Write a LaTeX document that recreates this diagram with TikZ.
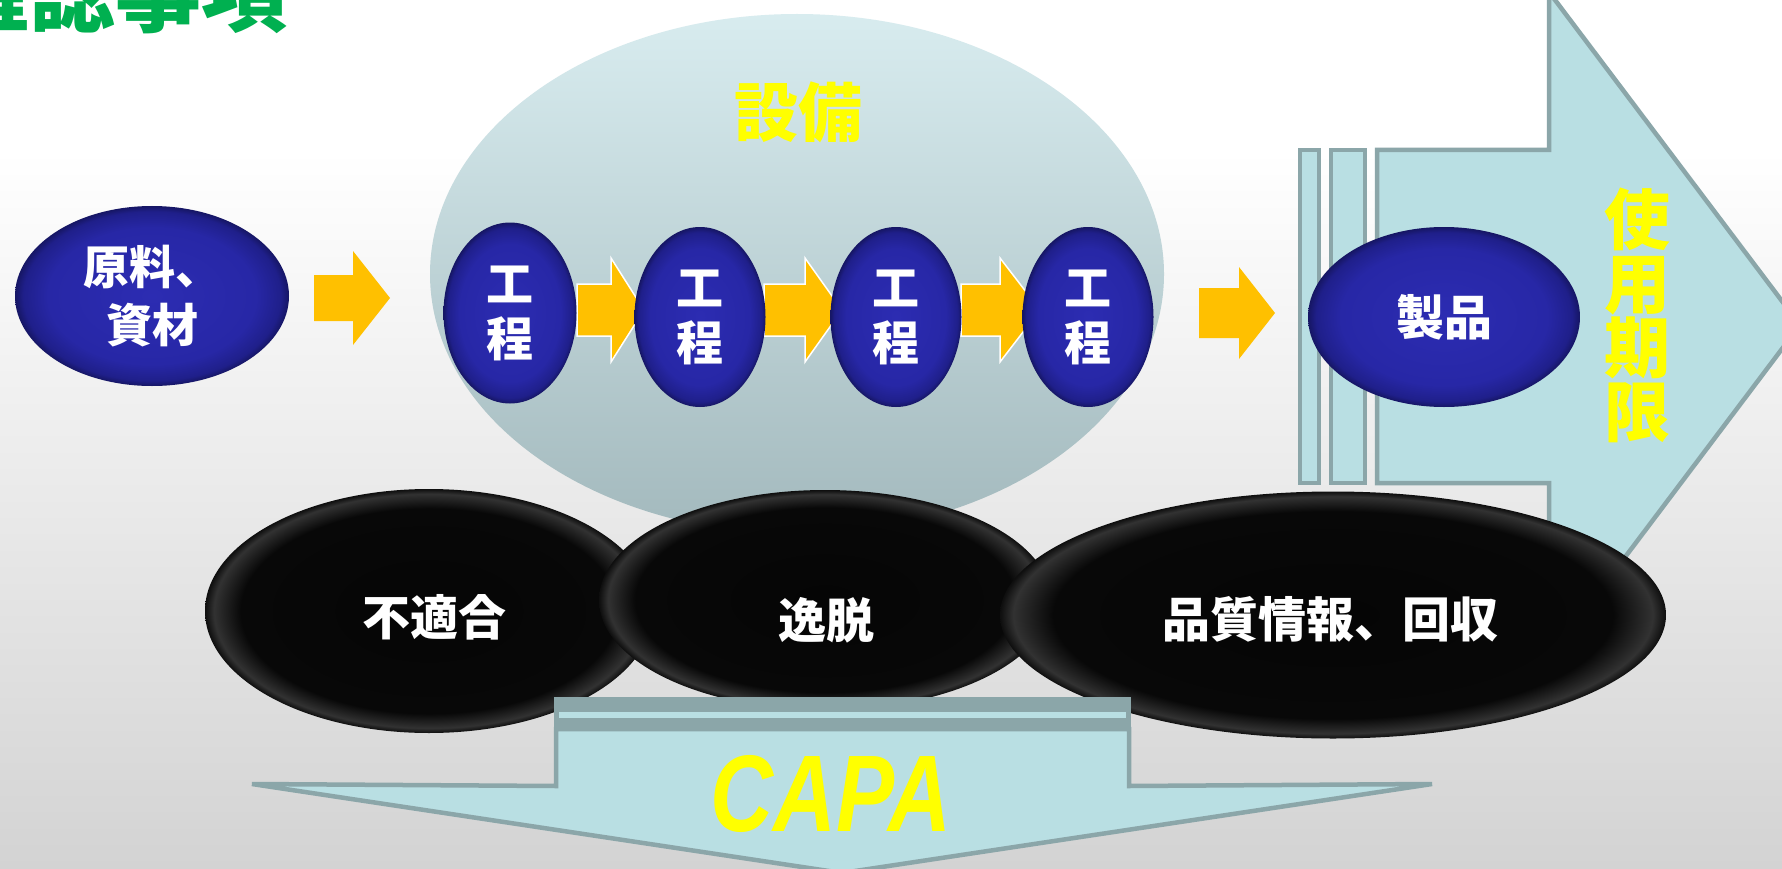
\documentclass[tikz,border=0pt]{standalone}
\usepackage{fontspec}
\usepackage{graphicx}
\newfontfamily\jp{Noto Sans CJK JP}
\newfontfamily\capafont{Liberation Sans}
\usetikzlibrary{shapes.geometric}
\definecolor{bgbot}{HTML}{D3D3D3}
\definecolor{eqtop}{HTML}{D8ECEF}
\definecolor{eqbot}{HTML}{A3B9BD}
\definecolor{lblue}{HTML}{B9DFE3}
\definecolor{lline}{HTML}{8BA6A9}
\definecolor{orng}{HTML}{FFC000}
\definecolor{ttlgreen}{HTML}{00B050}
\definecolor{yel}{HTML}{FFFF00}
\definecolor{bl0}{RGB}{44,44,178}
\definecolor{bl1}{RGB}{39,39,166}
\definecolor{bl2}{RGB}{31,31,138}
\definecolor{bl3}{RGB}{22,22,100}
\definecolor{bk0}{RGB}{5,5,5}
\definecolor{bk1}{RGB}{8,8,8}
\definecolor{bk2}{RGB}{50,50,50}
\definecolor{bk3}{RGB}{14,14,14}
\pgfdeclareradialshading{blueball}{\pgfpoint{0bp}{0bp}}{color(0bp)=(bl0); color(19bp)=(bl1); color(23.5bp)=(bl2); color(25bp)=(bl3); color(50bp)=(bl3)}
\pgfdeclareradialshading{blackball}{\pgfpoint{0bp}{0bp}}{color(0bp)=(bk0); color(21bp)=(bk1); color(24bp)=(bk2); color(25bp)=(bk3); color(50bp)=(bk3)}
\newcommand\blockarrow[7][]{%
  \path[#1] (#2,#5-#6) -- (#3,#5-#6) -- (#3,#5-#7) -- (#4,#5) -- (#3,#5+#7) -- (#3,#5+#6) -- (#2,#5+#6) -- cycle;}
\begin{document}
\begin{tikzpicture}[x=1pt,y=-1pt,
  blueell/.style={ellipse, shading=blueball, inner sep=0pt, text=white, align=center,
    font=\jp\bfseries\fontsize{47}{55}\selectfont},
  blackell/.style={ellipse, shading=blackball, inner sep=0pt},
  wlbl/.style={text=white, inner sep=0pt, font=\jp\bfseries\fontsize{48}{48}\selectfont},
  ylbl/.style={text=yel, inner sep=0pt, align=center},
  orfill/.style={fill=orng},
  orwhite/.style={fill=orng, draw=white, line width=1.5pt, line join=miter},
  lbox/.style={draw=lline, fill=lblue, line width=4.5pt, line join=miter}]
\useasboundingbox (0,0) rectangle (1782,869);
% background
\fill[white] (0,0) rectangle (1782,150);
\shade[top color=white, bottom color=bgbot] (0,150) rectangle (1782,869);
% title (cut off at the top edge, as in the reference)
\node[anchor=base west, text=ttlgreen, inner sep=0pt,
  font=\jp\bfseries\fontsize{86}{86}\selectfont] (title) at (-57,26) {確認事項};
% equipment ellipse
\node[ellipse, minimum width=734pt, minimum height=520pt, inner sep=0pt,
  top color=eqtop, bottom color=eqbot] (equip) at (797,274) {};
\node[ylbl, font=\jp\bfseries\fontsize{64}{64}\selectfont] (equiplbl) at (798,112) {設備};
% big right arrow (striped)
\draw[lbox] (1300,150) rectangle (1319,483);
\draw[lbox] (1331,150) rectangle (1365,483);
\draw[lbox] (1377,150) -- (1549,150) -- (1549,-8) -- (1800,325) -- (1549,658) -- (1549,483) -- (1377,483) -- cycle;
\node[ylbl, font=\jp\bfseries\fontsize{66}{64}\selectfont] (expiry) at (1637,315) {使\\用\\期\\限};
% orange block arrows
\blockarrow[orfill]{314}{353}{390}{298}{23}{47}
\blockarrow[orwhite]{577}{611}{644}{310}{26}{52}
\blockarrow[orwhite]{764}{805}{842}{310}{26}{52}
\blockarrow[orwhite]{961}{1000}{1040}{310}{26}{52}
\blockarrow[orfill]{1199}{1239}{1275}{313}{25}{46}
% blue nodes
\node[blueell, minimum width=274pt, minimum height=180pt,
  font=\jp\bfseries\fontsize{46}{58}\selectfont] (raw) at (152,296) {原料、\\資材};
\node[blueell, minimum width=133pt, minimum height=181pt] (p1) at (510,313) {工\\程};
\node[blueell, minimum width=131pt, minimum height=180pt] (p2) at (700,317) {工\\程};
\node[blueell, minimum width=131pt, minimum height=180pt] (p3) at (896,317) {工\\程};
\node[blueell, minimum width=131pt, minimum height=180pt] (p4) at (1088,317) {工\\程};
\node[blueell, minimum width=272pt, minimum height=180pt,
  font=\jp\bfseries\fontsize{48}{48}\selectfont] (product) at (1444,317) {製品};
% black ellipses
\node[blackell, minimum width=448pt, minimum height=244pt] (nc) at (429,611) {};
\node[blackell, minimum width=452pt, minimum height=220pt] (dev) at (825,600) {};
\node[blackell, minimum width=666pt, minimum height=247pt] (qi) at (1333,615) {};
\node[wlbl] (nclbl) at (434,617) {不適合};
\node[wlbl] (devlbl) at (826,620) {逸脱};
\node[wlbl] (qilbl) at (1330,619) {品質情報、回収};
% CAPA arrow
\draw[lbox] (556,729) -- (556,786) -- (252,784) -- (842,873) -- (1432,784) -- (1129,786) -- (1129,729) -- cycle;
\fill[lline] (554,697) rectangle (1131,729);
\fill[lblue] (559,712) rectangle (1126,718);
\node[ylbl, font=\capafont\bfseries\itshape\fontsize{109}{109}\selectfont] (capa) at (831,794) {\scalebox{0.8}[1]{CAPA}};
\end{tikzpicture}
\end{document}
